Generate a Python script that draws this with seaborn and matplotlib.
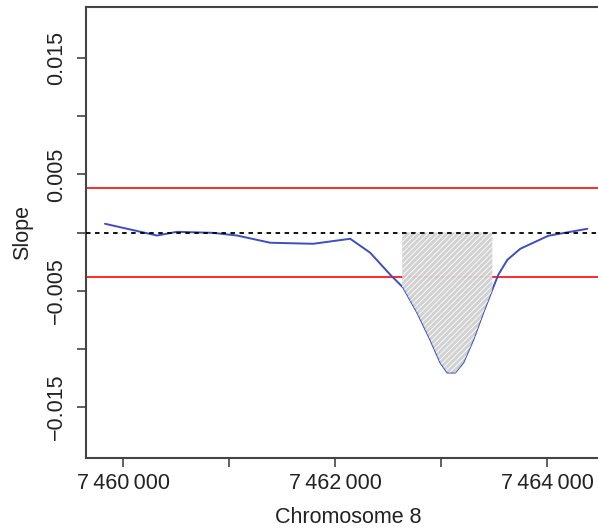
import numpy as np
import pandas as pd
import matplotlib
matplotlib.use('Agg')
import matplotlib.pyplot as plt
import seaborn as sns
from matplotlib.ticker import FixedLocator, FuncFormatter

sns.set_style('ticks')
plt.rcParams['font.family'] = ['Liberation Sans', 'DejaVu Sans']
plt.rcParams['hatch.color'] = '#e6e6e6'
plt.rcParams['hatch.linewidth'] = 0.6

# slope along the region
position = [7459830, 7460321, 7460509, 7460849, 7461075, 7461387, 7461792,
            7462142, 7462330, 7462519, 7462642, 7462774, 7462896, 7462991,
            7463057, 7463132, 7463208, 7463302, 7463396, 7463481, 7463538,
            7463623, 7463745, 7464009, 7464377]
slope = [0.00075, -0.00026, 0.00006, -0.00003, -0.00026, -0.00088, -0.00097,
         -0.00054, -0.00174, -0.00363, -0.00475, -0.00690, -0.00922, -0.01119,
         -0.01205, -0.01205, -0.01119, -0.00922, -0.00690, -0.00492, -0.00363,
         -0.00235, -0.00140, -0.00028, 0.00032]
threshold = 0.0038
region_start, region_end = 7462632, 7463481

x_ticks = [7460000, 7461000, 7462000, 7463000, 7464000]
x_labelled = [7460000, 7462000, 7464000]
y_ticks = [-0.015, -0.010, -0.005, 0.0, 0.005, 0.010, 0.015]
y_labelled = [-0.015, -0.005, 0.005, 0.015]

df = pd.DataFrame({'pos': position, 'slope': slope})

fig = plt.figure(figsize=(5.98, 5.29), dpi=100)
ax = fig.add_axes([86 / 598, 71 / 529, 525 / 598, 451 / 529])

# shaded significant region
xs = np.linspace(region_start, region_end, 200)
ys = np.interp(xs, df['pos'], df['slope'])
ax.fill_between(xs, 0, ys, facecolor='#d0d0d0', edgecolor='none',
                hatch='//////', zorder=3, alpha=0.95)

ax.axhline(threshold, color='#ff2a2a', lw=1.4, zorder=2)
ax.axhline(-threshold, color='#ff2a2a', lw=1.4, zorder=2)
ax.axhline(0, color='black', lw=1.3, ls=(0, (2.5, 2.5)), zorder=4)

sns.lineplot(data=df, x='pos', y='slope', color='#3c4ec0', lw=1.4,
             ax=ax, zorder=2)

ax.set_xlim(7459651, 7464600)
ax.set_ylim(-0.0194, 0.0194)


def fmt_x(v, p):
    if int(round(v)) not in x_labelled:
        return ''
    return f'{int(round(v)):,}'.replace(',', '\u2009')


def fmt_y(v, p):
    if not any(abs(v - t) < 1e-9 for t in y_labelled):
        return ''
    return f'{v:.3f}'.replace('-', '\u2212')


ax.xaxis.set_major_locator(FixedLocator(x_ticks))
ax.yaxis.set_major_locator(FixedLocator(y_ticks))
ax.xaxis.set_major_formatter(FuncFormatter(fmt_x))
ax.yaxis.set_major_formatter(FuncFormatter(fmt_y))
ax.tick_params(axis='both', direction='out', length=6.5, width=1.2,
               color='#444444', labelsize=15.5, labelcolor='#222222')
ax.tick_params(axis='x', pad=4)
ax.tick_params(axis='y', pad=7)
for lab in ax.get_yticklabels():
    lab.set_rotation(90)
    lab.set_va('center')

for s in ax.spines.values():
    s.set_color('#444444')
    s.set_linewidth(1.5)

ax.set_xlabel('Chromosome 8', fontsize=15.5, color='#222222', labelpad=10)
ax.set_ylabel('Slope', fontsize=15.5, color='#222222', labelpad=9.5)

fig.savefig('out.png', dpi=100)
